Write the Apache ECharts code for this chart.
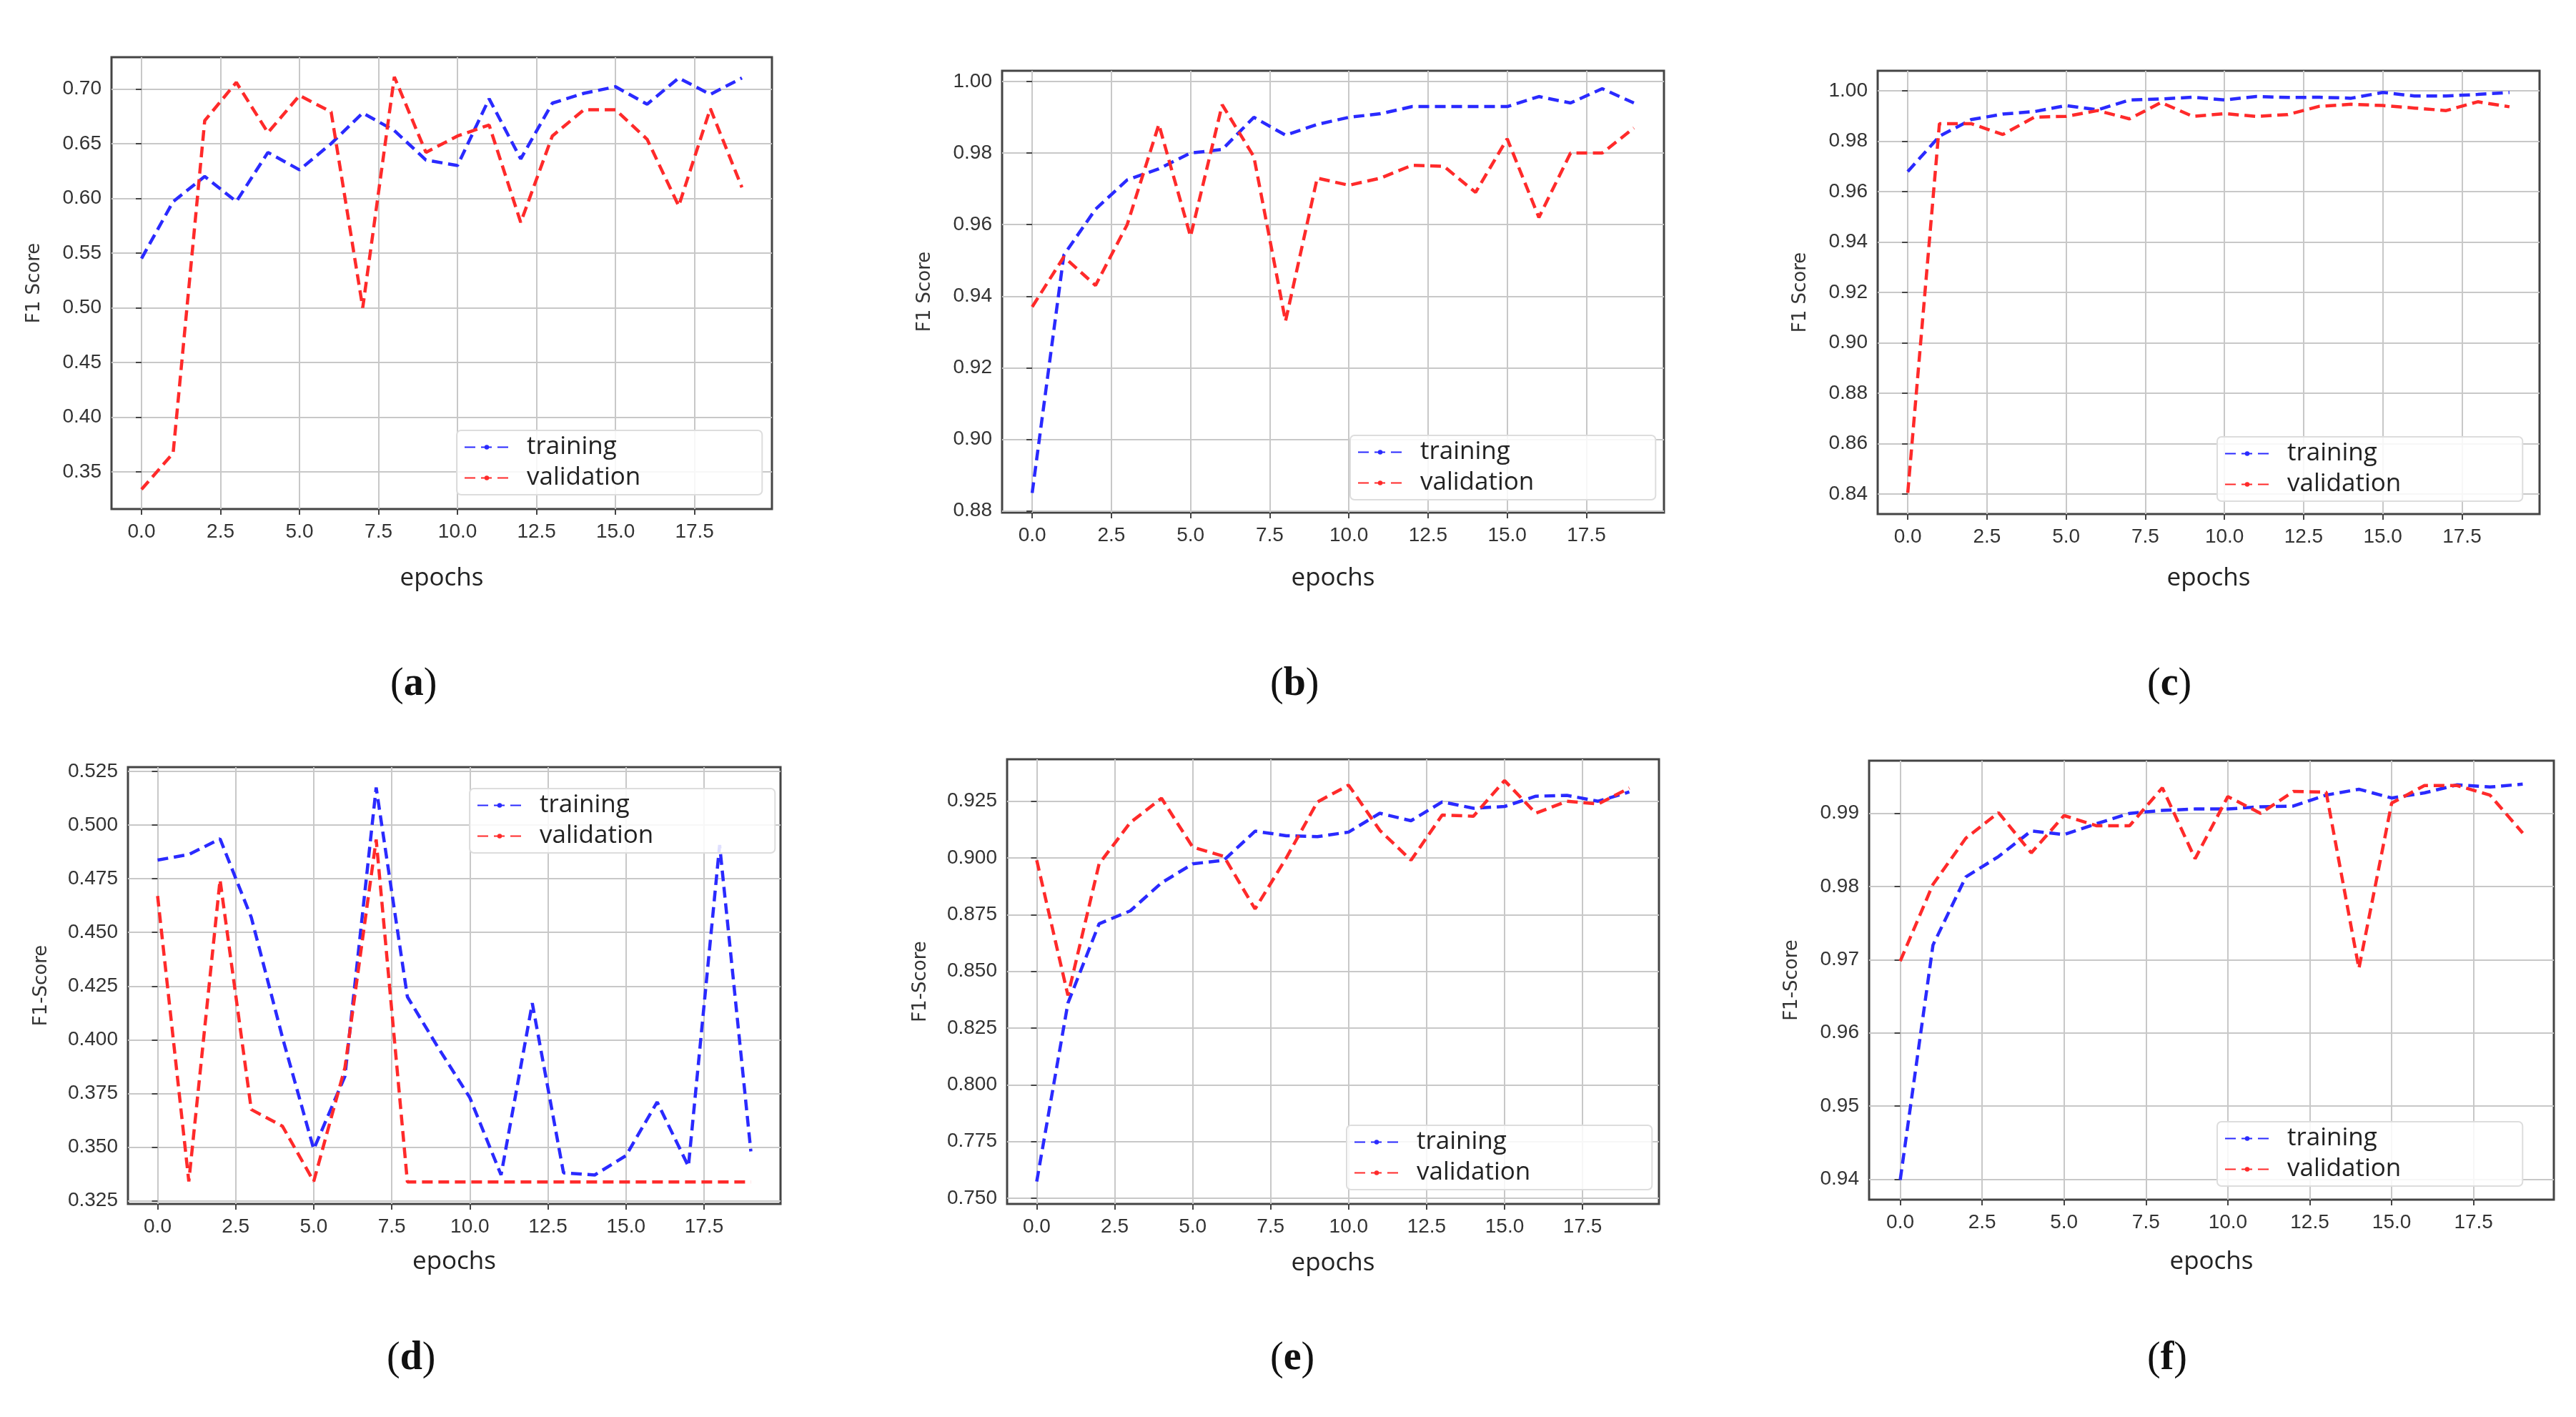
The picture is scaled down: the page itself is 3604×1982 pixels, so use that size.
<!DOCTYPE html>
<html><head><meta charset="utf-8">
<script src="https://cdn.jsdelivr.net/npm/echarts@6/dist/echarts.min.js"></script>
<style>html,body{margin:0;padding:0;background:#fff}#c{width:3604px;height:1982px}</style>
</head><body><div id="c"></div>
<script>
const epochs = [0,1,2,3,4,5,6,7,8,9,10,11,12,13,14,15,16,17,18,19];
const xTicks = [0,2.5,5,7.5,10,12.5,15,17.5];

const trainA = [0.545,0.597,0.620,0.597,0.642,0.626,0.650,0.678,0.662,0.635,0.630,0.691,0.636,0.687,0.696,0.702,0.686,0.710,0.695,0.710];
const valA   = [0.334,0.367,0.671,0.706,0.660,0.694,0.679,0.500,0.711,0.642,0.657,0.667,0.578,0.657,0.681,0.681,0.654,0.593,0.682,0.610];
const ticksA = [0.35,0.40,0.45,0.50,0.55,0.60,0.65,0.70];

const trainB = [0.885,0.9515,0.9643,0.9725,0.9756,0.980,0.981,0.990,0.985,0.988,0.990,0.991,0.993,0.993,0.993,0.993,0.9958,0.994,0.998,0.994];
const valB   = [0.937,0.951,0.943,0.960,0.988,0.9567,0.9935,0.979,0.933,0.973,0.971,0.973,0.9766,0.9763,0.969,0.984,0.962,0.980,0.980,0.987];
const ticksB = [0.88,0.90,0.92,0.94,0.96,0.98,1.00];

const trainC = [0.968,0.982,0.9886,0.9908,0.9918,0.9942,0.9925,0.9964,0.9968,0.9975,0.9964,0.9978,0.9974,0.9975,0.9971,0.9994,0.998,0.998,0.9986,0.9994];
const valC   = [0.8404,0.987,0.987,0.9827,0.9896,0.9899,0.9922,0.9889,0.9954,0.9899,0.991,0.9899,0.9906,0.9939,0.9947,0.9942,0.9932,0.9922,0.9957,0.9937];
const ticksC = [0.84,0.86,0.88,0.90,0.92,0.94,0.96,0.98,1.00];

const trainD = [0.4837,0.4863,0.4936,0.457,0.401,0.349,0.383,0.5175,0.420,0.396,0.373,0.337,0.417,0.338,0.337,0.346,0.371,0.341,0.4907,0.348];
const valD   = [0.467,0.334,0.4745,0.3675,0.3597,0.334,0.387,0.4933,0.3337,0.3337,0.3337,0.3337,0.3337,0.3337,0.3337,0.3337,0.3337,0.3337,0.3337,0.3337];
const ticksD = [0.325,0.350,0.375,0.400,0.425,0.450,0.475,0.500,0.525];

const trainE = [0.7574,0.836,0.871,0.8767,0.889,0.8974,0.899,0.9118,0.9098,0.9094,0.9114,0.9197,0.9164,0.9247,0.9219,0.9227,0.9272,0.9276,0.925,0.9291];
const valE   = [0.899,0.8394,0.8974,0.9156,0.9263,0.9048,0.9007,0.8775,0.900,0.9247,0.9321,0.9122,0.899,0.9189,0.9184,0.9341,0.9197,0.925,0.9238,0.9308];
const ticksE = [0.750,0.775,0.800,0.825,0.850,0.875,0.900,0.925];

const trainF = [0.9399,0.972,0.9813,0.9841,0.9876,0.9871,0.9886,0.990,0.9904,0.9906,0.9906,0.9909,0.991,0.9925,0.9933,0.9921,0.9928,0.9939,0.9936,0.994];
const valF   = [0.9698,0.9803,0.9866,0.9901,0.9846,0.9897,0.9883,0.9883,0.9935,0.9838,0.9923,0.990,0.993,0.9929,0.9688,0.9914,0.9938,0.9938,0.9925,0.9873];
const ticksF = [0.94,0.95,0.96,0.97,0.98,0.99];

const captions = ['a','b','c','d','e','f'];
const yNames = ['F1 Score','F1 Score','F1 Score','F1-Score','F1-Score','F1-Score'];
const digits = [2,2,2,3,3,2];

const panels = [
 {tr:trainA, va:valA, ticks:ticksA, ymin:0.316, ymax:0.729, g:[156,80,1080,712], lg:[639,602,1062,701], cap:[575,960], xn:792},
 {tr:trainB, va:valB, ticks:ticksB, ymin:0.8795, ymax:1.003, g:[1402,99,2328,717], lg:[1889,609,2310,701], cap:[1806,960], xn:792},
 {tr:trainC, va:valC, ticks:ticksC, ymin:0.832, ymax:1.008, g:[2627,99,3553,719], lg:[3102,611,3530,703], cap:[3033,960], xn:792},
 {tr:trainD, va:valD, ticks:ticksD, ymin:0.3235, ymax:0.527, g:[179,1073,1092,1684], lg:[657,1103,1080,1190], cap:[570,1903], xn:1748},
 {tr:trainE, va:valE, ticks:ticksE, ymin:0.7475, ymax:0.9435, g:[1409,1062,2321,1684], lg:[1884,1574,2307,1666], cap:[1806,1903], xn:1750},
 {tr:trainF, va:valF, ticks:ticksF, ymin:0.9372, ymax:0.9972, g:[2615,1064,3573,1678], lg:[3102,1569,3534,1659], cap:[3033,1903], xn:1748}
];

const tickFont = "'Liberation Sans Narrow','Liberation Sans',sans-serif";
const option = {backgroundColor:'#fff', animation:false, grid:[], xAxis:[], yAxis:[], series:[], legend:[], title:[]};
panels.forEach((p,i)=>{
  const [l,t,r,b]=p.g;
  option.grid.push({left:l, top:t, width:r-l, height:b-t, show:true, borderColor:'#444', borderWidth:3, backgroundColor:'#fff'});
  option.xAxis.push({type:'value', gridIndex:i, min:-0.95, max:19.95,
    name:'epochs', nameLocation:'middle', nameGap:(p.xn-b), nameTextStyle:{fontSize:35, color:'#222', fontFamily:"'Open Sans',sans-serif"},
    axisLine:{show:false}, axisTick:{show:true, customValues:xTicks, length:8, lineStyle:{color:'#444',width:2}},
    axisLabel:{customValues:xTicks, fontSize:28, color:'#333', fontFamily:tickFont, margin:18, formatter:v=>v.toFixed(1)},
    splitLine:{show:true, lineStyle:{color:'#c8c8c8', width:2}}});
  option.yAxis.push({type:'value', gridIndex:i, min:p.ymin, max:p.ymax,
    name:yNames[i], nameLocation:'middle', nameGap:digits[i]===3?108:95, nameTextStyle:{fontSize:26, color:'#333', fontFamily:"'DejaVu Sans',sans-serif"},
    axisLine:{show:false}, axisTick:{show:true, customValues:p.ticks, length:8, lineStyle:{color:'#444',width:2}},
    axisLabel:{customValues:p.ticks, fontSize:28, color:'#333', fontFamily:tickFont, margin:14, formatter:v=>v.toFixed(digits[i])},
    splitLine:{show:true, lineStyle:{color:'#c8c8c8', width:2}}});
  const mk=(name,arr,color)=>({name, type:'line', xAxisIndex:i, yAxisIndex:i, showSymbol:false, symbol:'none',
    data:epochs.map((e,k)=>[e,arr[k]]), lineStyle:{color, width:4.5, type:[15,8]}, itemStyle:{color}});
  option.series.push(mk('training',p.tr,'#2a2aff'), mk('validation',p.va,'#ff2a2a'));
  const [ll,lt,lr,lb]=p.lg;
  option.legend.push({left:ll, top:lt, width:lr-ll, height:lb-lt, orient:'vertical', data:['training','validation'],
    itemWidth:62, itemHeight:8, itemGap:8, padding:[6,170,6,10], backgroundColor:'rgba(255,255,255,0.85)',
    borderColor:'#ddd', borderWidth:2, borderRadius:6, selectedMode:false,
    textStyle:{fontSize:35, color:'#222', fontFamily:"'Open Sans',sans-serif", padding:[0,0,0,20]}});
  option.title.push({text:'({b|'+captions[i]+'})', left:p.cap[0]-34, top:p.cap[1]-35,
    textStyle:{fontSize:56, fontWeight:'normal', color:'#111', fontFamily:"'Liberation Serif',serif",
      rich:{b:{fontSize:56, fontWeight:'bold', fontFamily:"'Liberation Serif',serif", color:'#111'}}}});
});
const chart = echarts.init(document.getElementById('c'));
chart.setOption(option);
</script></body></html>
